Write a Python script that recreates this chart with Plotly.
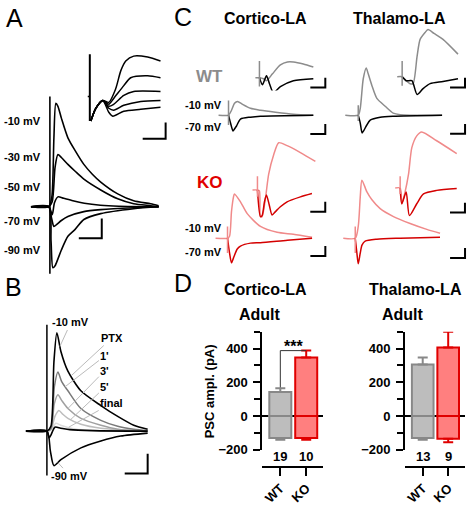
import plotly.graph_objects as go

W, H = 470, 511
FONT = "Arial, Liberation Sans, Helvetica, sans-serif"

GRAY_TR = "#8c8c8c"
PINK_TR = "#f08a8a"
RED_TR = "#d40000"

# ---------------- Panel A : main traces (ms, pA) ----------------
A_ART_T = [0, 0]
A_ART_I = [1120, -680]
A_M10_T = [-16.5, -1, 1.7, 3.5, 5.2, 7, 10, 15.7, 22, 29.6, 37, 44.3, 59.1, 73, 87.8, 94.8]
A_M10_I = [0, 0, 100, 700, 1050, 1020, 900, 700, 570, 430, 330, 250, 130, 60, 30, 10]
A_M30_T = [-16.5, -1, 2, 4.5, 7, 10, 15.7, 22, 29.6, 44.3, 59.1, 73, 87.8, 94.8]
A_M30_I = [0, 0, 50, 400, 530, 500, 430, 360, 280, 170, 80, 30, 10, 0]
A_M50_T = [-16.5, -1, 2, 4, 7, 12, 20, 30, 44, 60, 94.8]
A_M50_I = [0, 0, -80, 40, 100, 85, 60, 35, 15, 5, 0]
A_M70_T = [-16.5, -1, 1.5, 3.5, 6, 10, 15.7, 29.6, 44.3, 73, 94.8]
A_M70_I = [0, 0, -120, -200, -180, -140, -100, -50, -30, -10, 0]
A_M90_T = [-16.5, -1, 1, 2.6, 4.5, 7, 10, 15.7, 22, 29.6, 44.3, 73, 94.8]
A_M90_I = [0, 0, -350, -620, -600, -530, -440, -300, -230, -130, -70, -20, 0]

# ---------------- Panel A : inset ----------------
AI_PRE_T = [-0.45, 0]
AI_PRE_I = [0, 0]
AI_ART_T = [0, 0]
AI_ART_I = [258, -150]
AI_1_T = [0.22, 1.3, 2.83, 4.13, 5.65, 6.74, 7.83, 9.57, 12.6, 15.4]
AI_1_I = [-150, -72, -24, -36, 48, 156, 216, 246, 240, 216]
AI_2_T = [0.22, 1.3, 2.83, 4.13, 5.2, 7.4, 8.9, 12.6, 15.4]
AI_2_I = [-150, -72, -24, -48, -12, 66, 114, 126, 114]
AI_3_T = [0.22, 1.3, 2.83, 4.13, 5.2, 7.4, 9.57, 15.4]
AI_3_I = [-150, -72, -24, -60, -48, 6, 30, 30]
AI_4_T = [0.22, 1.3, 2.83, 4.13, 5.2, 7.4, 11.1, 15.4]
AI_4_I = [-150, -72, -24, -72, -84, -54, -30, -24]
AI_5_T = [0.22, 1.3, 2.83, 4.13, 5.0, 7.4, 11.1, 15.4]
AI_5_I = [-150, -72, -24, -96, -120, -90, -78, -66]

# ---------------- Panel B ----------------
B_ART_T = [0, 0]
B_ART_I = [1080, -450]
B_PTX_T = [-18.3, 0, 3.5, 6.1, 8.7, 12.2, 18.3, 29.6, 47, 61.7, 75.7, 87.8]
B_PTX_I = [0, 0, 50, 700, 1000, 810, 610, 410, 260, 150, 60, 20]
B_1_T = [-18.3, 0, 3.5, 6.5, 9.6, 13, 18.3, 29.6, 47, 61.7, 75.7, 87.8]
B_1_I = [0, 0, 30, 450, 600, 500, 410, 230, 110, 50, 20, 5]
B_3_T = [0, 3.5, 6.5, 9.6, 13, 18.3, 29.6, 47, 61.7, 87.8]
B_3_I = [0, 20, 280, 370, 310, 230, 130, 60, 20, 0]
B_5_T = [0, 3.5, 7, 10.4, 14, 18.3, 29.6, 47, 87.8]
B_5_I = [0, 15, 150, 210, 170, 130, 70, 30, 0]
B_FIN_T = [0, 3.5, 7.8, 12, 20.9, 35, 87.8]
B_FIN_I = [0, 10, 80, 60, 30, 10, 0]
B_BLK_T = [-18.3, 0, 2, 3.5, 7, 12, 20, 40, 87.8]
B_BLK_I = [0, 0, -70, -40, 40, 30, 15, 5, 0]
B_M90_T = [-18.3, 0, 3, 6.1, 12.2, 29.6, 47, 64.3, 87.8]
B_M90_I = [0, 0, -200, -350, -290, -170, -100, -50, -20]

# ---------------- Panel C : WT cortico ----------------
CWC_ART_T = [0, 0]
CWC_ART_I = [150, -100]
CWC_G_T = [-13.3, 0, 4, 8, 12, 18.7, 29.3, 42.7, 62.7, 86.7, 113.3]
CWC_G_I = [0, 0, 50, 120, 140, 110, 70, 50, 30, 10, 0]
CWC_K_T = [0, 2.7, 6, 8, 10.7, 16, 29.3, 42.7, 113.3]
CWC_K_I = [0, -80, -160, -140, -110, -40, -20, -10, 0]
CWCI_ART_T = [0, 0]
CWCI_ART_I = [85, -45]
CWCI_G_T = [-2.7, 0, 2.7, 4.7, 8.7, 14, 18.7, 22.7, 29.3, 36]
CWCI_G_I = [0, 0, -5, -15, 20, 65, 80, 80, 70, 55]
CWCI_K_T = [0, 2, 4.7, 6.7, 9.3, 14, 22.7, 36]
CWCI_K_I = [0, -35, 10, -30, -75, -45, -15, -5]

# ---------------- Panel C : WT thalamo ----------------
CWT_ART_T = [0, 0]
CWT_ART_I = [100, -60]
CWT_G_T = [-17.3, 0, 2.7, 6.7, 10.7, 13.3, 18.3, 24.9, 36, 46.7, 56, 112]
CWT_G_I = [0, 0, 70, 370, 480, 420, 300, 170, 90, 20, 5, 0]
CWT_K_T = [0, 2.7, 5.3, 10.7, 16, 29.3, 46.7, 112]
CWT_K_I = [0, -80, -180, -110, -50, -20, -10, 0]
CWTI_ART_T = [0, 0]
CWTI_ART_I = [80, -45]
CWTI_G_T = [-3.3, 0, 2.7, 5.3, 7.3, 10, 12, 15.3, 17.3, 21.3, 27.3, 37.3]
CWTI_G_I = [0, 0, -20, -35, -35, 105, 190, 225, 240, 220, 190, 115]
CWTI_K_T = [0, 2.7, 6.5, 10, 14, 18.7, 27.3, 37.3]
CWTI_K_I = [0, -20, -20, -90, -60, -35, -24, -10]

# ---------------- Panel C : KO cortico ----------------
CKC_ART_T = [0, 0]
CKC_ART_I = [120, -150]
CKC_P_T = [-16, 0, 2.7, 5.3, 8, 9.3, 17.3, 26.3, 44, 66.3, 88, 113]
CKC_P_I = [0, 0, 20, 270, 420, 450, 370, 250, 120, 60, 40, 10]
CKC_R_T = [0, 2.7, 5.3, 8, 13, 17.3, 30.7, 44, 80, 113]
CKC_R_I = [0, -150, -250, -200, -110, -80, -50, -45, -20, 0]
CKCI_ART_T = [0, 0]
CKCI_ART_I = [70, -35]
CKCI_P_T = [-3.3, 0, 1.3, 2, 3.1, 5.3, 7.5, 10.9, 14.2, 19.8, 28.7, 38.7]
CKCI_P_I = [0, 0, -5, -135, -135, -45, 80, 180, 240, 225, 190, 145]
CKCI_R_T = [0, 2, 3.1, 4.7, 6, 8, 9.8, 12, 15.3, 19.8, 28.7, 36.4]
CKCI_R_I = [0, -135, -130, -60, -25, -80, -127, -110, -85, -60, -35, -18]

# ---------------- Panel C : KO thalamo ----------------
CKT_ART_T = [0, 0]
CKT_ART_I = [120, -150]
CKT_P_T = [-16, 0, 4, 6.7, 8.9, 15.6, 22.3, 33.3, 51.1, 73.3, 95.6, 113.3]
CKT_P_I = [0, 0, 120, 420, 590, 470, 390, 300, 220, 150, 90, 50]
CKT_R_T = [0, 2.2, 4, 6.7, 9, 13.3, 28.9, 60, 113.3]
CKT_R_I = [0, -150, -260, -150, -70, -30, -10, 0, 10]
CKTI_ART_T = [0, 0]
CKTI_ART_I = [60, -30]
CKTI_P_T = [-3.3, 0, 1.1, 3.3, 5.6, 7.8, 11.1, 14.4, 24.4, 37.8]
CKTI_P_I = [0, 0, -80, -20, 70, 205, 265, 285, 240, 175]
CKTI_R_T = [0, 1.1, 4, 6.2, 11.1, 15.6, 24.4, 37.8]
CKTI_R_I = [0, -80, -20, -140, -80, -30, -12, -3]

# ---------------- Panel D : bars ----------------
D_CAT = ["WT", "KO"]
D_CORT_OUT = [143, 347]
D_CORT_OUT_ERR = [22, 41]
D_CORT_IN = [-130, -130]
D_CORT_IN_ERR = [10, 10]
D_CORT_N = ["19", "10"]
D_THAL_OUT = [306, 406]
D_THAL_OUT_ERR = [41, 94]
D_THAL_IN = [-130, -135]
D_THAL_IN_ERR = [10, 20]
D_THAL_N = ["13", "9"]
D_SIG = "***"

# ------------------------------------------------------------------
fig = go.Figure()
layout = {}


def px_x(x):
    return x / W


def px_y(y):
    return 1 - y / H


def add_panel(idx, xpx, ypx, xr, yr):
    sx = "" if idx == 1 else str(idx)
    layout["xaxis" + sx] = dict(domain=[px_x(xpx[0]), px_x(xpx[1])], range=xr, visible=False,
                                anchor="y" + sx, fixedrange=True)
    layout["yaxis" + sx] = dict(domain=[px_y(ypx[1]), px_y(ypx[0])], range=yr, visible=False,
                                anchor="x" + sx, fixedrange=True)


def ax_ids(idx):
    sx = "" if idx == 1 else str(idx)
    return "x" + sx, "y" + sx


def line(idx, t, i, color, width=1.5, spline=True):
    xa, ya = ax_ids(idx)
    fig.add_trace(go.Scatter(x=t, y=i, xaxis=xa, yaxis=ya, mode="lines", hoverinfo="skip",
                             showlegend=False,
                             line=dict(color=color, width=width,
                                       shape="spline" if spline else "linear", smoothing=0.7)))


shapes = []


def scalebar(idx, t0, dt, i0, di):
    xa, ya = ax_ids(idx)
    shapes.append(dict(type="path", xref=xa, yref=ya,
                       path=f"M {t0},{i0} L {t0 + dt},{i0} L {t0 + dt},{i0 + di}",
                       line=dict(color="black", width=2)))


# Panel A main
add_panel(1, (28, 162), (95, 285), [-18.26, 98.26], [-750, 1150])
for t, i in [(A_M90_T, A_M90_I), (A_M70_T, A_M70_I), (A_M50_T, A_M50_I),
             (A_M30_T, A_M30_I), (A_M10_T, A_M10_I)]:
    line(1, t, i, "black", 1.6)
line(1, A_ART_T, A_ART_I, "black", 1.6, spline=False)
scalebar(1, 25.2, 20, -320, 200)

# Panel A inset
add_panel(2, (84, 170), (50, 146), [-1.09, 17.61], [-288, 288])
for t, i in [(AI_1_T, AI_1_I), (AI_2_T, AI_2_I), (AI_3_T, AI_3_I), (AI_4_T, AI_4_I), (AI_5_T, AI_5_I)]:
    line(2, t, i, "black", 1.5)
line(2, AI_PRE_T, AI_PRE_I, "black", 1.5, spline=False)
line(2, AI_ART_T, AI_ART_I, "black", 2, spline=False)
scalebar(2, 11.52, 5, -258, 100)

# Panel B
add_panel(3, (22, 152), (325, 490), [-20.87, 92.17], [-520, 1130])
line(3, B_FIN_T, B_FIN_I, "#dcdcdc", 1.5)
line(3, B_5_T, B_5_I, "#bdbdbd", 1.5)
line(3, B_3_T, B_3_I, "#a0a0a0", 1.5)
line(3, B_1_T, B_1_I, "#7a7a7a", 1.5)
line(3, B_BLK_T, B_BLK_I, "black", 1.6)
line(3, B_M90_T, B_M90_I, "black", 1.6)
line(3, B_PTX_T, B_PTX_I, "black", 1.6)
line(3, B_ART_T, B_ART_I, "black", 1.5, spline=False)
scalebar(3, 67.8, 20, -430, 200)

# Panel C WT cortico
add_panel(4, (213, 327), (98, 138), [-20, 132], [-210, 190])
line(4, CWC_G_T, CWC_G_I, GRAY_TR)
line(4, CWC_K_T, CWC_K_I, "black")
line(4, CWC_ART_T, CWC_ART_I, GRAY_TR, 1.5, spline=False)
scalebar(4, 109.3, 20, -190, 100)
add_panel(5, (248, 327), (55, 92), [-7.33, 45.33], [-65, 120])
line(5, CWCI_G_T, CWCI_G_I, GRAY_TR)
line(5, CWCI_K_T, CWCI_K_I, "black")
line(5, CWCI_ART_T, CWCI_ART_I, GRAY_TR, 1.5, spline=False)
scalebar(5, 34, 10, -50, 50)

# Panel C WT thalamo
add_panel(6, (340, 470), (60, 140), [-24, 149.3], [-230, 570])
line(6, CWT_G_T, CWT_G_I, GRAY_TR)
line(6, CWT_K_T, CWT_K_I, "black")
line(6, CWT_ART_T, CWT_ART_I, GRAY_TR, 1.5, spline=False)
scalebar(6, 122.7, 20, -190, 100)
add_panel(7, (390, 470), (25, 100), [-8, 45.33], [-110, 265])
line(7, CWTI_G_T, CWTI_G_I, GRAY_TR)
line(7, CWTI_K_T, CWTI_K_I, "black")
line(7, CWTI_ART_T, CWTI_ART_I, GRAY_TR, 1.5, spline=False)
scalebar(7, 32, 10, -55, 50)

# Panel C KO cortico
add_panel(8, (213, 327), (185, 272), [-18.67, 133.33], [-300, 570])
line(8, CKC_P_T, CKC_P_I, PINK_TR)
line(8, CKC_R_T, CKC_R_I, RED_TR)
line(8, CKC_ART_T, CKC_ART_I, PINK_TR, 1.5, spline=False)
scalebar(8, 110.7, 20, -180, 100)
add_panel(9, (248, 327), (138, 224), [-6, 46.67], [-155, 275])
line(9, CKCI_P_T, CKCI_P_I, PINK_TR)
line(9, CKCI_R_T, CKCI_R_I, RED_TR)
line(9, CKCI_ART_T, CKCI_ART_I, PINK_TR, 1.5, spline=False)
scalebar(9, 35.3, 10, -110, 50)

# Panel C KO thalamo
add_panel(10, (340, 470), (175, 272), [-20, 153.33], [-300, 670])
line(10, CKT_P_T, CKT_P_I, PINK_TR)
line(10, CKT_R_T, CKT_R_I, RED_TR)
line(10, CKT_ART_T, CKT_ART_I, PINK_TR, 1.5, spline=False)
scalebar(10, 126.7, 20, -200, 100)
add_panel(11, (390, 470), (125, 225), [-6.67, 46.67], [-170, 330])
line(11, CKTI_P_T, CKTI_P_I, PINK_TR)
line(11, CKTI_R_T, CKTI_R_I, RED_TR)
line(11, CKTI_ART_T, CKTI_ART_I, PINK_TR, 1.5, spline=False)
scalebar(11, 33.3, 10, -125, 50)

# ---------------- Panel D bar charts ----------------
WT_FILL, WT_EDGE = "#bdbdbd", "#888888"
KO_FILL, KO_EDGE = "#ff7f7f", "#e00000"


def bar_panel(idx, xpx, out, out_err, inn, inn_err):
    xa, ya = ax_ids(idx)
    for k, (fill, edge) in enumerate([(WT_FILL, WT_EDGE), (KO_FILL, KO_EDGE)]):
        fig.add_trace(go.Bar(x=[k], y=[out[k]], width=0.85, xaxis=xa, yaxis=ya, showlegend=False,
                             hoverinfo="skip",
                             marker=dict(color=fill, line=dict(color=edge, width=2)),
                             error_y=dict(type="data", symmetric=False, array=[out_err[k]], arrayminus=[0],
                                          color=edge, thickness=2, width=5)))
        fig.add_trace(go.Bar(x=[k], y=[inn[k]], width=0.85, xaxis=xa, yaxis=ya, showlegend=False,
                             hoverinfo="skip",
                             marker=dict(color=fill, line=dict(color=edge, width=2)),
                             error_y=dict(type="data", symmetric=False, array=[0], arrayminus=[inn_err[k]],
                                          color=edge, thickness=2, width=5)))
    sx = "" if idx == 1 else str(idx)
    tickfont = dict(family=FONT, size=13, color="black", weight="bold")
    layout["xaxis" + sx] = dict(domain=[px_x(xpx[0]), px_x(xpx[1])], range=[-0.69, 1.66],
                                anchor="free", position=px_y(474), showline=True, linecolor="black",
                                linewidth=2, ticks="outside", ticklen=8, tickwidth=2, tickcolor="black",
                                tickvals=[0, 1], ticktext=D_CAT, tickangle=-45, tickfont=tickfont,
                                showgrid=False, zeroline=False, fixedrange=True)
    layout["yaxis" + sx] = dict(domain=[px_y(457), px_y(337)], range=[-200, 500], anchor="x" + sx,
                                showline=True, linecolor="black", linewidth=2, ticks="outside",
                                ticklen=7, tickwidth=2, tickcolor="black", tickvals=[-200, 0, 200, 400],
                                minor=dict(tickvals=[-100, 100, 300, 500], ticks="outside", ticklen=6,
                                           tickwidth=2, tickcolor="black"),
                                tickfont=tickfont, showgrid=False, zeroline=True, zerolinecolor="black",
                                zerolinewidth=2, layer="above traces", fixedrange=True,
                                ticklabelstandoff=3)


bar_panel(12, (262, 323), D_CORT_OUT, D_CORT_OUT_ERR, D_CORT_IN, D_CORT_IN_ERR)
bar_panel(13, (405, 465), D_THAL_OUT, D_THAL_OUT_ERR, D_THAL_IN, D_THAL_IN_ERR)

# significance bracket (cortico)
shapes.append(dict(type="path", xref="x12", yref="y12",
                   path=f"M 0,{D_CORT_OUT[0] + D_CORT_OUT_ERR[0] + 5} L 0,{D_CORT_OUT[1] + D_CORT_OUT_ERR[1]} "
                        f"L 1,{D_CORT_OUT[1] + D_CORT_OUT_ERR[1]}",
                   line=dict(color="#333333", width=1)))

# ---------------- annotations ----------------
ann = []


def text(x, y, s, size=11, bold=True, color="black", xanchor="center", angle=0):
    ann.append(dict(x=px_x(x), y=px_y(y), xref="paper", yref="paper", text=s, showarrow=False,
                    xanchor=xanchor, yanchor="middle", textangle=angle,
                    font=dict(family=FONT, size=size, color=color, weight="bold" if bold else "normal")))


for lab, x, y in [("A", 14, 18), ("B", 13, 292), ("C", 182.5, 17), ("D", 182.5, 288)]:
    text(x, y, lab, size=25, bold=False)

for s, y in [("-10 mV", 123), ("-30 mV", 159), ("-50 mV", 190), ("-70 mV", 225), ("-90 mV", 254)]:
    text(42, y, s, size=11, xanchor="right")

text(265.5, 19, "Cortico-LA", size=16)
text(399.5, 19, "Thalamo-LA", size=16)
text(208.5, 78, "WT", size=17, color="#8c8c8c")
text(209.5, 185, "KO", size=17, color="#e00000")
text(223, 107, "-10 mV", size=11, xanchor="right")
text(223, 129, "-70 mV", size=11, xanchor="right")
text(223, 232, "-10 mV", size=11, xanchor="right")
text(223, 256, "-70 mV", size=11, xanchor="right")

text(265.5, 294, "Cortico-LA", size=16)
text(415, 294, "Thalamo-LA", size=16)
text(260, 320, "Adult", size=16)
text(402.5, 320, "Adult", size=16)
text(209, 398, "PSC ampl. (pA)", size=13, angle=-90)
text(293, 352, D_SIG, size=16)
for k, n in enumerate(D_CORT_N):
    ann.append(dict(x=k, y=px_y(464), xref="x12", yref="paper", text=n, showarrow=False,
                    yanchor="middle", font=dict(family=FONT, size=13, color="black", weight="bold")))
for k, n in enumerate(D_THAL_N):
    ann.append(dict(x=k, y=px_y(464), xref="x13", yref="paper", text=n, showarrow=False,
                    yanchor="middle", font=dict(family=FONT, size=13, color="black", weight="bold")))

# Panel B labels with leader lines (label, target t, target I, dx, dy in px)
B_LABELS = [("-10 mV", 11.3, 860, 11, -24), ("PTX", 20.9, 560, 41, -38), ("1'", 15.7, 450, 40, -31),
            ("3'", 18.3, 230, 37, -38), ("5'", 20.9, 120, 34, -32), ("final", 19, 40, 43, -24),
            ("-90 mV", 9.6, -320, 12, 13)]
for s, t, i, dx, dy in B_LABELS:
    ann.append(dict(x=t, y=i, xref="x3", yref="y3", text=s, showarrow=True, arrowhead=0,
                    arrowwidth=1, arrowcolor="#bbbbbb", ax=dx, ay=dy, standoff=0,
                    font=dict(family=FONT, size=11, color="black", weight="bold")))

fig.update_layout(**layout)
fig.update_layout(width=W, height=H, margin=dict(l=0, r=0, t=0, b=0), paper_bgcolor="white",
                  plot_bgcolor="rgba(0,0,0,0)", barmode="overlay", shapes=shapes, annotations=ann,
                  font=dict(family=FONT), showlegend=False)

fig.write_html("out.html", config={"displayModeBar": False, "staticPlot": True},
               post_script="document.body.style.margin='0';document.body.style.overflow='hidden';")
